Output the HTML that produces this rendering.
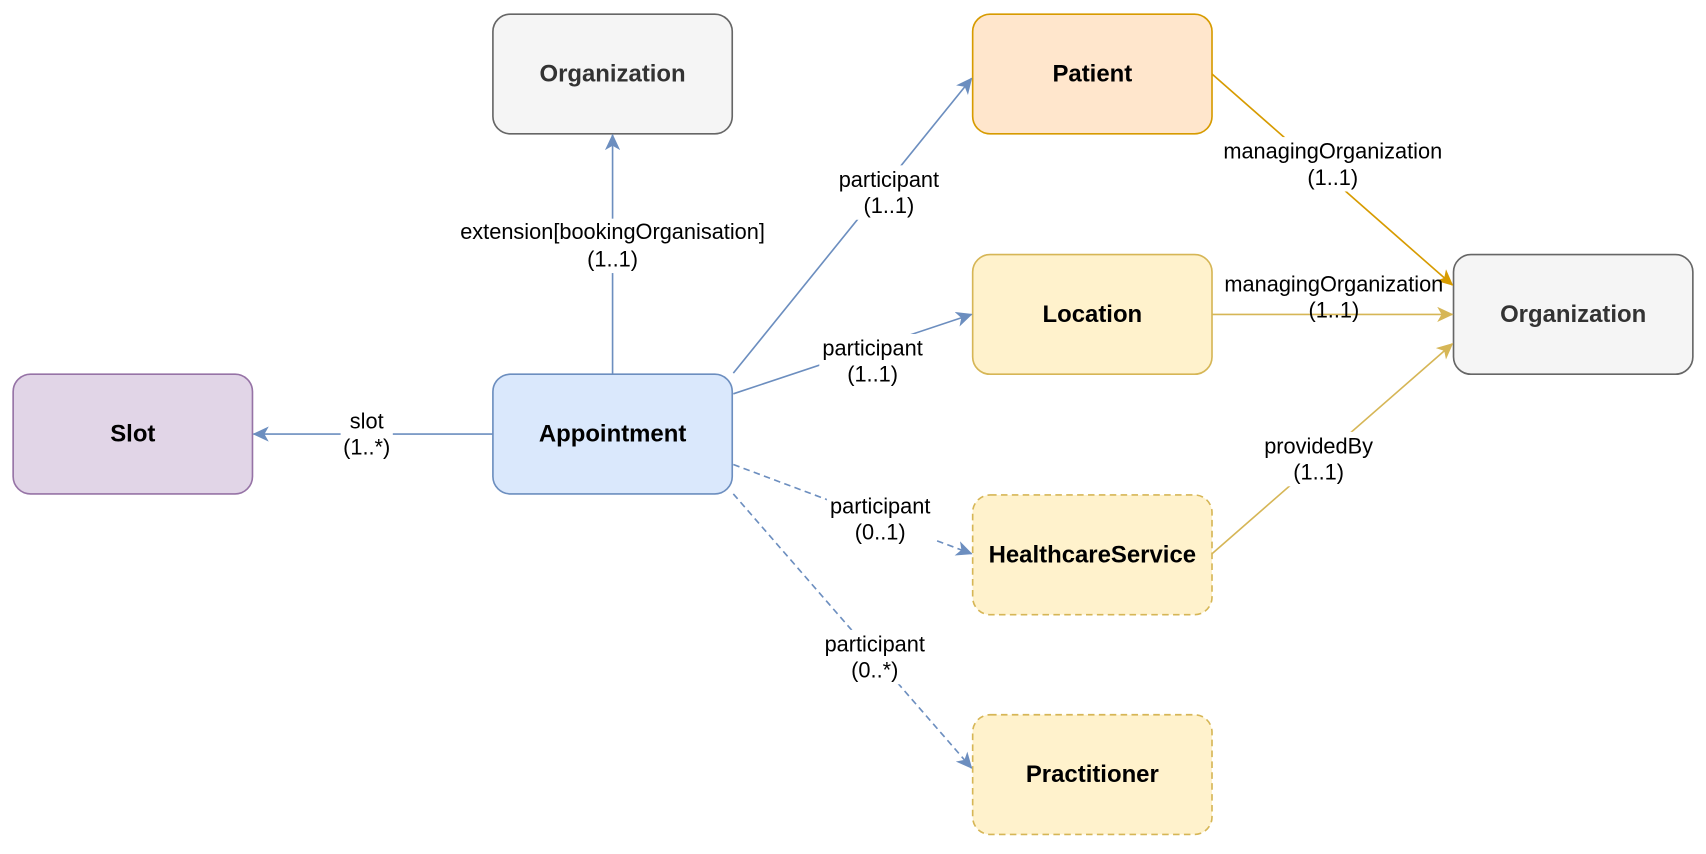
<!DOCTYPE html>
<html><head><meta charset="utf-8"><style>
html,body{margin:0;padding:0;background:#fff;}
svg{display:block;}
text{font-family:"Liberation Sans",Arial,sans-serif;}
.n{font-weight:bold;font-size:22px;text-anchor:middle;dominant-baseline:central;}
.l{font-size:20px;text-anchor:middle;dominant-baseline:central;fill:#000;}
</style></head><body>
<svg width="1706" height="854" viewBox="0 0 1568 785" xmlns="http://www.w3.org/2000/svg">
<defs>
<marker id="ab" markerWidth="15" markerHeight="14" refX="14" refY="7" orient="auto" markerUnits="userSpaceOnUse" viewBox="0 0 15 14"><path d="M0,0 L15,7 L0,14 L4,7 z" fill="#6c8ebf"/></marker>
<marker id="ao" markerWidth="15" markerHeight="14" refX="14" refY="7" orient="auto" markerUnits="userSpaceOnUse" viewBox="0 0 15 14"><path d="M0,0 L15,7 L0,14 L4,7 z" fill="#d79b00"/></marker>
<marker id="ay" markerWidth="15" markerHeight="14" refX="14" refY="7" orient="auto" markerUnits="userSpaceOnUse" viewBox="0 0 15 14"><path d="M0,0 L15,7 L0,14 L4,7 z" fill="#d6b656"/></marker>
</defs>
<rect x="453" y="13" width="220" height="110" rx="16" fill="#f5f5f5" stroke="#666" stroke-width="1.5"/>
<text class="n" x="563" y="68" fill="#333">Organization</text>
<rect x="12" y="344" width="220" height="110" rx="16" fill="#e1d5e7" stroke="#9673a6" stroke-width="1.5"/>
<text class="n" x="122" y="399">Slot</text>
<rect x="453" y="344" width="220" height="110" rx="16" fill="#dae8fc" stroke="#6c8ebf" stroke-width="1.5"/>
<text class="n" x="563" y="399">Appointment</text>
<rect x="894" y="13" width="220" height="110" rx="16" fill="#ffe6cc" stroke="#d79b00" stroke-width="1.5"/>
<text class="n" x="1004" y="68">Patient</text>
<rect x="894" y="234" width="220" height="110" rx="16" fill="#fff2cc" stroke="#d6b656" stroke-width="1.5"/>
<text class="n" x="1004" y="289">Location</text>
<rect x="894" y="455" width="220" height="110" rx="16" fill="#fff2cc" stroke="#d6b656" stroke-width="1.5" stroke-dasharray="6,4"/>
<text class="n" x="1004" y="510">HealthcareService</text>
<rect x="894" y="657" width="220" height="110" rx="16" fill="#fff2cc" stroke="#d6b656" stroke-width="1.5" stroke-dasharray="6,4"/>
<text class="n" x="1004" y="712">Practitioner</text>
<rect x="1336" y="234" width="220" height="110" rx="16" fill="#f5f5f5" stroke="#666" stroke-width="1.5"/>
<text class="n" x="1446" y="289" fill="#333">Organization</text>
<g fill="none" stroke-width="1.5">
<line x1="563" y1="344" x2="563" y2="124" stroke="#6c8ebf" marker-end="url(#ab)"/>
<line x1="453" y1="399" x2="233" y2="399" stroke="#6c8ebf" marker-end="url(#ab)"/>
<line x1="674" y1="343" x2="893" y2="72" stroke="#6c8ebf" marker-end="url(#ab)"/>
<line x1="674" y1="362" x2="893" y2="289" stroke="#6c8ebf" marker-end="url(#ab)"/>
<line x1="674" y1="427" x2="893" y2="509" stroke="#6c8ebf" stroke-dasharray="6,4" marker-end="url(#ab)"/>
<line x1="674" y1="454" x2="893" y2="706" stroke="#6c8ebf" stroke-dasharray="6,4" marker-end="url(#ab)"/>
<line x1="1114" y1="68" x2="1335" y2="262" stroke="#d79b00" marker-end="url(#ao)"/>
<line x1="1114" y1="289" x2="1335" y2="289" stroke="#d6b656" marker-end="url(#ay)"/>
<line x1="1114" y1="509" x2="1335" y2="316" stroke="#d6b656" marker-end="url(#ay)"/>
</g>
<g fill="#fff">
<rect x="418" y="201" width="290" height="50"/>
<rect x="313" y="375" width="48" height="50"/>
<rect x="768" y="152" width="98" height="50"/>
<rect x="753" y="307" width="98" height="50"/>
<rect x="760" y="452" width="98" height="50"/>
<rect x="755" y="579" width="98" height="50"/>
<rect x="1122" y="126" width="206" height="50"/>
<rect x="1160" y="397" width="104" height="50"/>
</g>
<text class="l" x="563" y="213">extension[bookingOrganisation]</text>
<text class="l" x="563" y="238">(1..1)</text>
<text class="l" x="337" y="387">slot</text>
<text class="l" x="337" y="411">(1..*)</text>
<text class="l" x="817" y="165">participant</text>
<text class="l" x="817" y="189">(1..1)</text>
<text class="l" x="802" y="320">participant</text>
<text class="l" x="802" y="344">(1..1)</text>
<text class="l" x="809" y="465">participant</text>
<text class="l" x="809" y="489">(0..1)</text>
<text class="l" x="804" y="592">participant</text>
<text class="l" x="804" y="616">(0..*)</text>
<text class="l" x="1225" y="139">managingOrganization</text>
<text class="l" x="1225" y="163">(1..1)</text>
<text class="l" x="1226" y="261">managingOrganization</text>
<text class="l" x="1226" y="285">(1..1)</text>
<text class="l" x="1212" y="410">providedBy</text>
<text class="l" x="1212" y="434">(1..1)</text>
</svg>
</body></html>
